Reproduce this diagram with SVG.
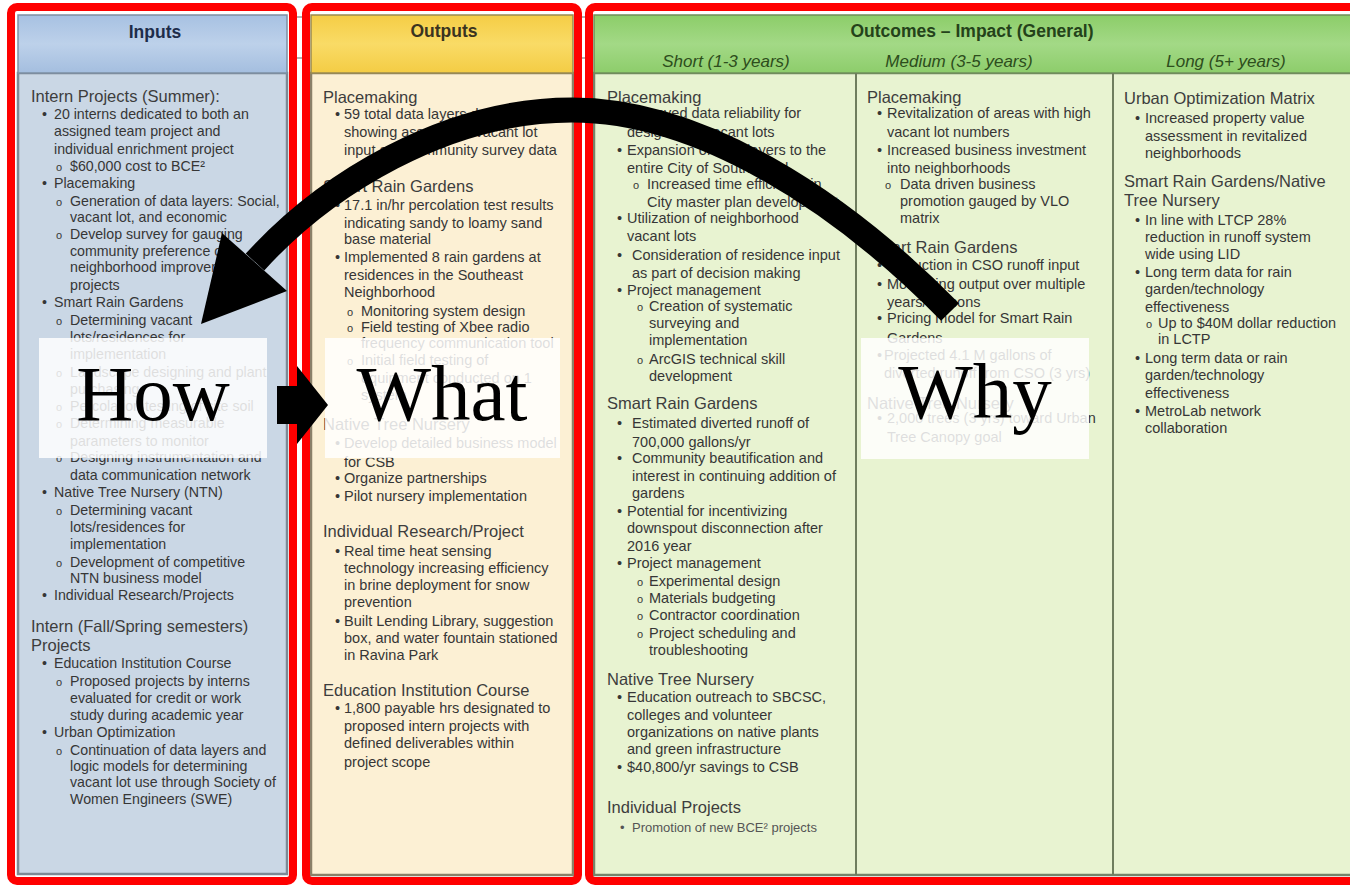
<svg xmlns="http://www.w3.org/2000/svg" width="1350" height="885" viewBox="0 0 1350 885">
<defs>
<linearGradient id="gBlue" x1="0" y1="0" x2="0" y2="1"><stop offset="0" stop-color="#a7c1e2"/><stop offset="0.5" stop-color="#bdd1ea"/><stop offset="1" stop-color="#a4bedf"/></linearGradient>
<linearGradient id="gGold" x1="0" y1="0" x2="0" y2="1"><stop offset="0" stop-color="#f5cd45"/><stop offset="0.5" stop-color="#f9db66"/><stop offset="1" stop-color="#f4cc44"/></linearGradient>
<linearGradient id="gGreen" x1="0" y1="0" x2="0" y2="1"><stop offset="0" stop-color="#8ccd69"/><stop offset="0.5" stop-color="#a3d986"/><stop offset="1" stop-color="#8dcd6b"/></linearGradient>
</defs>
<style>
text{font-family:"Liberation Sans",Arial,sans-serif;fill:#363636}
.t{font-size:14.5px}
.in{font-size:14.2px}
.h{font-size:16.5px;fill:#3d3d3d}
.o{font-size:11px}
.hd{font-weight:bold;font-size:17.5px;text-anchor:middle}
.it{font-style:italic;font-size:17px;text-anchor:middle;fill:#2d4d1c}
.big{font-family:"Liberation Serif","Times New Roman",serif;font-size:79px;fill:#000;text-anchor:middle}
.box{fill:#fff;fill-opacity:0.84}
.red{fill:none;stroke:#ff0000;stroke-width:8}
.tl{stroke:#9a9a9a;stroke-width:1.5}
</style>
<rect width="1350" height="885" fill="#fff"/>
<g id="gaps">
<line class="tl" x1="297" y1="17" x2="302" y2="17"/><line class="tl" x1="297" y1="58" x2="302" y2="58"/>
<line class="tl" x1="582" y1="17" x2="586" y2="17"/><line class="tl" x1="582" y1="58" x2="586" y2="58"/>
</g>

<g id="inputs">
<rect x="18" y="73" width="269" height="801" fill="#cad7e5" stroke="#7d8995" stroke-width="2.5"/>
<rect x="18" y="15" width="269" height="58" fill="url(#gBlue)" stroke="#7d8fa3" stroke-width="1.5"/>
<text class="hd" x="155" y="38" style="fill:#1e2d4a">Inputs</text>
<text class="h" x="31" y="102">Intern Projects (Summer):</text>
<text class="in" x="42" y="119">•</text><text class="in" x="54" y="119">20 interns dedicated to both an</text>
<text class="in" x="54" y="136">assigned team project and</text>
<text class="in" x="54" y="154">individual enrichment project</text>
<text class="o" x="56" y="171">o</text><text class="in" x="70" y="171">$60,000 cost to BCE²</text>
<text class="in" x="42" y="188">•</text><text class="in" x="54" y="188">Placemaking</text>
<text class="o" x="56" y="206">o</text><text class="in" x="70" y="206">Generation of data layers: Social,</text>
<text class="in" x="70" y="222">vacant lot, and economic</text>
<text class="o" x="56" y="239">o</text><text class="in" x="70" y="239">Develop survey for gauging</text>
<text class="in" x="70" y="256">community preference of</text>
<text class="in" x="70" y="272">neighborhood improvement</text>
<text class="in" x="70" y="290">projects</text>
<text class="in" x="42" y="307">•</text><text class="in" x="54" y="307">Smart Rain Gardens</text>
<text class="o" x="56" y="325">o</text><text class="in" x="70" y="325">Determining vacant</text>
<text class="in" x="70" y="342">lots/residences for</text>
<text class="in" x="70" y="359">implementation</text>
<text class="o" x="56" y="377">o</text><text class="in" x="70" y="377">Landscape designing and plant</text>
<text class="in" x="70" y="394">purchasing</text>
<text class="o" x="56" y="411">o</text><text class="in" x="70" y="411">Percolation testing of site soil</text>
<text class="o" x="56" y="428">o</text><text class="in" x="70" y="428">Determining measurable</text>
<text class="in" x="70" y="446">parameters to monitor</text>
<text class="o" x="56" y="462">o</text><text class="in" x="70" y="462">Designing instrumentation and</text>
<text class="in" x="70" y="480">data communication network</text>
<text class="in" x="42" y="497">•</text><text class="in" x="54" y="497">Native Tree Nursery (NTN)</text>
<text class="o" x="56" y="515">o</text><text class="in" x="70" y="515">Determining vacant</text>
<text class="in" x="70" y="532">lots/residences for</text>
<text class="in" x="70" y="549">implementation</text>
<text class="o" x="56" y="567">o</text><text class="in" x="70" y="567">Development of competitive</text>
<text class="in" x="70" y="583">NTN business model</text>
<text class="in" x="42" y="600">•</text><text class="in" x="54" y="600">Individual Research/Projects</text>
<text class="h" x="31" y="632">Intern (Fall/Spring semesters)</text>
<text class="h" x="31" y="651">Projects</text>
<text class="in" x="42" y="668">•</text><text class="in" x="54" y="668">Education Institution Course</text>
<text class="o" x="56" y="686">o</text><text class="in" x="70" y="686">Proposed projects by interns</text>
<text class="in" x="70" y="703">evaluated for credit or work</text>
<text class="in" x="70" y="720">study during academic year</text>
<text class="in" x="42" y="737">•</text><text class="in" x="54" y="737">Urban Optimization</text>
<text class="o" x="56" y="755">o</text><text class="in" x="70" y="755">Continuation of data layers and</text>
<text class="in" x="70" y="771">logic models for determining</text>
<text class="in" x="70" y="787">vacant lot use through Society of</text>
<text class="in" x="70" y="804">Women Engineers (SWE)</text>
<rect class="red" x="11" y="7" width="282" height="874" rx="6"/>
</g>

<g id="outputs">
<rect x="311" y="73" width="262" height="802" fill="#fcf0d4" stroke="#8a8068" stroke-width="2.5"/>
<rect x="311" y="15" width="262" height="58" fill="url(#gGold)" stroke="#9a8a50" stroke-width="1.5"/>
<text class="hd" x="444" y="37" style="fill:#3a3320">Outputs</text>
<text class="h" x="323" y="103">Placemaking</text>
<text class="t" x="335" y="119">•</text><text class="t" x="344" y="119">59 total data layers developed</text>
<text class="t" x="344" y="137">showing assets and vacant lot</text>
<text class="t" x="344" y="155">input and community survey data</text>
<text class="h" x="323" y="192">Smart Rain Gardens</text>
<text class="t" x="335" y="210">•</text><text class="t" x="344" y="210">17.1 in/hr percolation test results</text>
<text class="t" x="344" y="228">indicating sandy to loamy sand</text>
<text class="t" x="344" y="244">base material</text>
<text class="t" x="335" y="262">•</text><text class="t" x="344" y="262">Implemented 8 rain gardens at</text>
<text class="t" x="344" y="280">residences in the Southeast</text>
<text class="t" x="344" y="297">Neighborhood</text>
<text class="o" x="347" y="316">o</text><text class="t" x="361" y="316">Monitoring system design</text>
<text class="o" x="347" y="332">o</text><text class="t" x="361" y="332">Field testing of Xbee radio</text>
<text class="t" x="361" y="348">frequency communication tool</text>
<text class="o" x="347" y="365">o</text><text class="t" x="361" y="365">Initial field testing of</text>
<text class="t" x="361" y="383">equipment conducted on 1</text>
<text class="t" x="361" y="400">system</text>
<text class="h" x="323" y="430">Native Tree Nursery</text>
<text class="t" x="335" y="448">•</text><text class="t" x="344" y="448">Develop detailed business model</text>
<text class="t" x="344" y="467">for CSB</text>
<text class="t" x="335" y="483">•</text><text class="t" x="344" y="483">Organize partnerships</text>
<text class="t" x="335" y="501">•</text><text class="t" x="344" y="501">Pilot nursery implementation</text>
<text class="h" x="323" y="537">Individual Research/Project</text>
<text class="t" x="335" y="556">•</text><text class="t" x="344" y="556">Real time heat sensing</text>
<text class="t" x="344" y="573">technology increasing efficiency</text>
<text class="t" x="344" y="590">in brine deployment for snow</text>
<text class="t" x="344" y="607">prevention</text>
<text class="t" x="335" y="626">•</text><text class="t" x="344" y="626">Built Lending Library, suggestion</text>
<text class="t" x="344" y="643">box, and water fountain stationed</text>
<text class="t" x="344" y="660">in Ravina Park</text>
<text class="h" x="323" y="696">Education Institution Course</text>
<text class="t" x="335" y="713">•</text><text class="t" x="344" y="713">1,800 payable hrs designated to</text>
<text class="t" x="344" y="731">proposed intern projects with</text>
<text class="t" x="344" y="748">defined deliverables within</text>
<text class="t" x="344" y="767">project scope</text>
<rect class="red" x="306" y="7" width="272" height="874" rx="6"/>
</g>

<g id="outcomes">
<rect x="594" y="73" width="762" height="802" fill="#e8f3d1" stroke="#75836a" stroke-width="2.5"/>
<rect x="594" y="15" width="762" height="58" fill="url(#gGreen)" stroke="#6f8f5a" stroke-width="1.5"/>
<line x1="856" y1="73" x2="856" y2="875" stroke="#6f7d5e" stroke-width="2"/>
<line x1="1113" y1="73" x2="1113" y2="875" stroke="#6f7d5e" stroke-width="2"/>
<text class="hd" x="972" y="37" style="fill:#24421a">Outcomes – Impact (General)</text>
<g id="short">
<text class="it" x="726" y="67">Short (1-3 years)</text>
<text class="h" x="607" y="103">Placemaking</text>
<text class="t" x="617" y="118">•</text><text class="t" x="627" y="118">Improved data reliability for</text>
<text class="t" x="627" y="137">designating vacant lots</text>
<text class="t" x="617" y="155">•</text><text class="t" x="627" y="155">Expansion of data layers to the</text>
<text class="t" x="627" y="173">entire City of South Bend</text>
<text class="o" x="633" y="189">o</text><text class="t" x="647" y="189">Increased time efficiency in</text>
<text class="t" x="647" y="207">City master plan development</text>
<text class="t" x="617" y="223">•</text><text class="t" x="627" y="223">Utilization of neighborhood</text>
<text class="t" x="627" y="241">vacant lots</text>
<text class="t" x="617" y="260">•</text><text class="t" x="632" y="260">Consideration of residence input</text>
<text class="t" x="632" y="278">as part of decision making</text>
<text class="t" x="617" y="295">•</text><text class="t" x="627" y="295">Project management</text>
<text class="o" x="637" y="311">o</text><text class="t" x="649" y="311">Creation of systematic</text>
<text class="t" x="649" y="328">surveying and</text>
<text class="t" x="649" y="345">implementation</text>
<text class="o" x="637" y="364">o</text><text class="t" x="649" y="364">ArcGIS technical skill</text>
<text class="t" x="649" y="381">development</text>
<text class="h" x="607" y="409">Smart Rain Gardens</text>
<text class="t" x="617" y="428">•</text><text class="t" x="632" y="428">Estimated diverted runoff of</text>
<text class="t" x="632" y="447">700,000 gallons/yr</text>
<text class="t" x="617" y="463">•</text><text class="t" x="632" y="463">Community beautification and</text>
<text class="t" x="632" y="481">interest in continuing addition of</text>
<text class="t" x="632" y="498">gardens</text>
<text class="t" x="617" y="516">•</text><text class="t" x="627" y="516">Potential for incentivizing</text>
<text class="t" x="627" y="533">downspout disconnection after</text>
<text class="t" x="627" y="551">2016 year</text>
<text class="t" x="617" y="568">•</text><text class="t" x="627" y="568">Project management</text>
<text class="o" x="637" y="586">o</text><text class="t" x="649" y="586">Experimental design</text>
<text class="o" x="637" y="603">o</text><text class="t" x="649" y="603">Materials budgeting</text>
<text class="o" x="637" y="620">o</text><text class="t" x="649" y="620">Contractor coordination</text>
<text class="o" x="637" y="638">o</text><text class="t" x="649" y="638">Project scheduling and</text>
<text class="t" x="649" y="655">troubleshooting</text>
<text class="h" x="607" y="685">Native Tree Nursery</text>
<text class="t" x="617" y="702">•</text><text class="t" x="627" y="702">Education outreach to SBCSC,</text>
<text class="t" x="627" y="720">colleges and volunteer</text>
<text class="t" x="627" y="737">organizations on native plants</text>
<text class="t" x="627" y="754">and green infrastructure</text>
<text class="t" x="617" y="772">•</text><text class="t" x="627" y="772">$40,800/yr savings to CSB</text>
<text class="h" x="607" y="813">Individual Projects</text>
<text class="t" x="620" y="832" style="font-size:13px;fill:#555">•</text><text class="t" x="632" y="832" style="font-size:13px;fill:#555">Promotion of new BCE² projects</text>
</g>
<g id="medium">
<text class="it" x="959" y="67">Medium (3-5 years)</text>
<text class="h" x="867" y="103">Placemaking</text>
<text class="t" x="877" y="118">•</text><text class="t" x="887" y="118">Revitalization of areas with high</text>
<text class="t" x="887" y="137">vacant lot numbers</text>
<text class="t" x="877" y="155">•</text><text class="t" x="887" y="155">Increased business investment</text>
<text class="t" x="887" y="173">into neighborhoods</text>
<text class="o" x="885" y="189">o</text><text class="t" x="900" y="189">Data driven business</text>
<text class="t" x="900" y="206">promotion gauged by VLO</text>
<text class="t" x="900" y="223">matrix</text>
<text class="h" x="867" y="253">Smart Rain Gardens</text>
<text class="t" x="877" y="270">•</text><text class="t" x="887" y="270">Reduction in CSO runoff input</text>
<text class="t" x="877" y="289">•</text><text class="t" x="887" y="289">Monitoring output over multiple</text>
<text class="t" x="887" y="307">years/seasons</text>
<text class="t" x="877" y="323">•</text><text class="t" x="887" y="323">Pricing model for Smart Rain</text>
<text class="t" x="887" y="343">Gardens</text>
<text class="t" x="877" y="360">•</text><text class="t" x="884" y="360">Projected 4.1 M gallons of</text>
<text class="t" x="884" y="378">diverted runoff from CSO (3 yrs)</text>
<text class="h" x="867" y="409">Native Tree Nursery</text>
<text class="t" x="877" y="423">•</text><text class="t" x="887" y="423">2,000 trees (3 yrs) toward Urban</text>
<text class="t" x="887" y="442">Tree Canopy goal</text>
</g>
<g id="long">
<text class="it" x="1226" y="67">Long (5+ years)</text>
<text class="h" x="1124" y="104">Urban Optimization Matrix</text>
<text class="t" x="1135" y="123">•</text><text class="t" x="1145" y="123">Increased property value</text>
<text class="t" x="1145" y="141">assessment in revitalized</text>
<text class="t" x="1145" y="158">neighborhoods</text>
<text class="h" x="1124" y="187">Smart Rain Gardens/Native</text>
<text class="h" x="1124" y="206">Tree Nursery</text>
<text class="t" x="1135" y="225">•</text><text class="t" x="1145" y="225">In line with LTCP 28%</text>
<text class="t" x="1145" y="242">reduction in runoff system</text>
<text class="t" x="1145" y="259">wide using LID</text>
<text class="t" x="1135" y="277">•</text><text class="t" x="1145" y="277">Long term data for rain</text>
<text class="t" x="1145" y="294">garden/technology</text>
<text class="t" x="1145" y="312">effectiveness</text>
<text class="o" x="1146" y="328">o</text><text class="t" x="1158" y="328">Up to $40M dollar reduction</text>
<text class="t" x="1158" y="344">in LCTP</text>
<text class="t" x="1135" y="363">•</text><text class="t" x="1145" y="363">Long term data or rain</text>
<text class="t" x="1145" y="380">garden/technology</text>
<text class="t" x="1145" y="398">effectiveness</text>
<text class="t" x="1135" y="416">•</text><text class="t" x="1145" y="416">MetroLab network</text>
<text class="t" x="1145" y="433">collaboration</text>
</g>
<rect class="red" x="589" y="7" width="775" height="874" rx="6"/>
</g>

<g id="how"><rect class="box" x="39" y="338" width="228" height="120"/><text class="big" x="153" y="420">How</text></g>
<g id="what"><rect class="box" x="325" y="338" width="235" height="120"/><text class="big" x="442" y="420">What</text></g>
<g id="why"><rect class="box" x="861" y="338" width="228" height="121"/><text class="big" x="975" y="418">Why</text></g>

<g id="connectors">
<path d="M 950 312 C 840 200, 700 110, 572 110 C 445 110, 325 185, 255 262" fill="none" stroke="#000" stroke-width="25"/>
<polygon points="201,324 222,233 287,291" fill="#000"/>
<polygon points="277,386 297,386 297,366 328,405 297,444 297,424 277,424" fill="#000"/>
</g>
</svg>
